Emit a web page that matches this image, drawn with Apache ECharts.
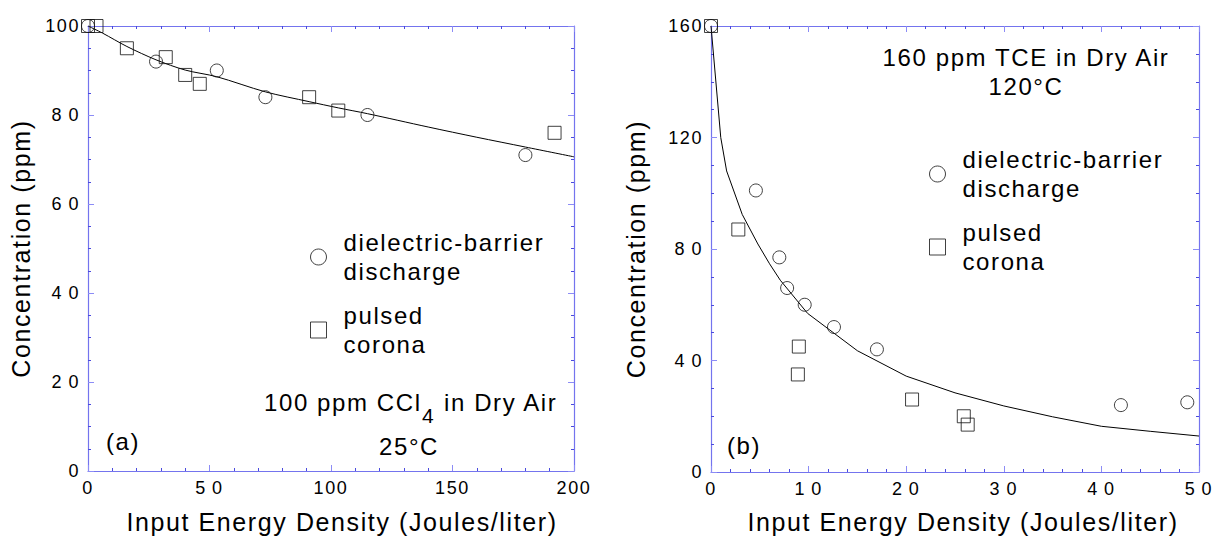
<!DOCTYPE html>
<html>
<head>
<meta charset="utf-8">
<title>Concentration vs input energy density</title>
<script src="https://cdn.jsdelivr.net/npm/echarts@6/dist/echarts.min.js"></script>
<style>
    html, body { margin: 0; padding: 0; background: #fff; }
    #main { width: 1217px; height: 539px; }
    /* the original plot sets its letters a little wider than normal */
    #main svg text { letter-spacing: 1.6px; }
</style>
</head>
<body>
<div id="main"></div>
<script>
// (a) 100 ppm CCl4 in dry air, 25 C
var ccl4DbdX = [0, 28, 53, 73, 115, 180];
var ccl4DbdY = [100, 92, 90, 84, 80, 71];
var ccl4PcX = [0, 3.5, 16, 32, 40, 46, 91, 103, 192];
var ccl4PcY = [100, 100, 95, 93, 89, 87, 84, 81, 76];
var ccl4FitX = [0, 6, 16, 28, 40, 53, 73, 91, 103, 115, 140, 160, 180, 200];
var ccl4FitY = [100, 98.4, 95.4, 92.4, 90.1, 88.6, 85.2, 83.0, 81.6, 80.3, 77.3, 75.0, 72.8, 70.6];

// (b) 160 ppm TCE in dry air, 120 C
var tceDbdX = [0, 4.6, 7.0, 7.8, 9.6, 12.6, 17, 42, 48.8];
var tceDbdY = [160, 101, 77, 66, 60, 52, 44, 24, 25];
var tcePcX = [0, 2.8, 9.0, 8.9, 20.6, 25.9, 26.3];
var tcePcY = [160, 87, 45, 35, 26, 20, 17];
var tceFitX = [0, 1, 1.6, 3.2, 4.8, 6, 7.1, 9.9, 15, 20, 25, 30, 35, 40, 45, 50];
var tceFitY = [160, 120, 108, 92.4, 81.8, 74.7, 68.8, 56.9, 43.5, 34.4, 28.4, 23.7, 19.8, 16.4, 14.6, 12.9];

// axis ranges [min, max, major step, minor divisions]
var ccl4XTicks = [0, 200, 50, 5];
var ccl4YTicks = [0, 100, 20, 4];
var tceXTicks = [0, 50, 10, 5];
var tceYTicks = [0, 160, 40, 4];

var dbdName = 'dielectric-barrier\ndischarge';
var pcName = 'pulsed\ncorona';
var xName = 'Input Energy Density (Joules/liter)';
var yName = 'Concentration (ppm)';

var fontName = "'Liberation Sans', Arial, sans-serif";
var axisBlue = '#7474ee';
var hollow = {color: 'rgba(0,0,0,0)', borderColor: '#111', borderWidth: 1};

function pairs(xs, ys) {
    var out = [];
    for (var i = 0; i < xs.length; i++) {
        out.push([xs[i], ys[i]]);
    }
    return out;
}

function tickText(v) {
    var s = String(v);
    if (s.length == 2) { // two digit labels are spaced out in the original
        return s.charAt(0) + '\u2009' + s.charAt(1);
    }
    return s;
}

function makeAxis(grid, pos, ticks, showLabel) {
    return {
        type: 'value',
        gridIndex: grid,
        position: pos,
        min: ticks[0],
        max: ticks[1],
        interval: ticks[2],
        axisLine: {show: true, onZero: false, lineStyle: {color: axisBlue, width: 1.2}},
        axisTick: {show: true, inside: true, length: 6, lineStyle: {color: '#8c8cf6', width: 1}},
        minorTick: {show: true, splitNumber: ticks[3], length: 3, lineStyle: {color: '#4a4ade', width: 1}},
        splitLine: {show: false},
        axisLabel: {
            show: showLabel, margin: 8, color: '#000', fontSize: 18, fontFamily: fontName,
            showMinLabel: true, showMaxLabel: true, formatter: tickText
        }
    };
}

function nameIt(axis, name, gap, pad) {
    axis.name = name;
    axis.nameLocation = 'middle';
    axis.nameGap = gap;
    axis.nameTextStyle = {color: '#000', fontSize: 25, fontFamily: fontName, padding: pad};
    return axis;
}

var xAxes = [
    nameIt(makeAxis(0, 'bottom', ccl4XTicks, true), xName, 38, [0, 0, 0, 22]),
    makeAxis(0, 'top', ccl4XTicks, false),
    nameIt(makeAxis(1, 'bottom', tceXTicks, true), xName, 37, [0, 0, 0, 16]),
    makeAxis(1, 'top', tceXTicks, false)
];
var yAxes = [
    nameIt(makeAxis(0, 'left', ccl4YTicks, true), yName, 55, 0),
    makeAxis(0, 'right', ccl4YTicks, false),
    nameIt(makeAxis(1, 'left', tceYTicks, true), yName, 63, 0),
    makeAxis(1, 'right', tceYTicks, false)
];

function dots(name, symbol, xi, xs, ys) {
    return {
        name: name, type: 'scatter', xAxisIndex: xi, yAxisIndex: xi,
        data: pairs(xs, ys), symbol: symbol, symbolSize: 13,
        itemStyle: hollow, clip: false, silent: true, z: 3
    };
}

function fit(xi, xs, ys, smooth) {
    return {
        name: 'fit', type: 'line', xAxisIndex: xi, yAxisIndex: xi,
        data: pairs(xs, ys), showSymbol: false, smooth: smooth,
        lineStyle: {color: '#000', width: 1}, silent: true, z: 2
    };
}

function legendAt(left, top) {
    return {
        orient: 'vertical', left: left, top: top, padding: 0,
        itemWidth: 16, itemHeight: 16, itemGap: 15, selectedMode: false,
        data: [{name: dbdName, icon: 'circle'}, {name: pcName, icon: 'rect'}],
        itemStyle: hollow,
        textStyle: {color: '#000', fontSize: 24, lineHeight: 29, fontFamily: fontName, padding: [0, 0, 0, 12]}
    };
}

function label(x, y, text, align) {
    return {
        type: 'text', x: x, y: y, silent: true,
        style: {text: text, fill: '#000', font: '24px ' + fontName, align: align, verticalAlign: 'middle'}
    };
}

var chart = echarts.init(document.getElementById('main'), null, {renderer: 'svg'});
chart.setOption({
    animation: false,
    backgroundColor: '#fff',
    grid: [
        {left: 88, top: 26, width: 486, height: 448},
        {left: 711, top: 26, width: 488, height: 451}
    ],
    xAxis: xAxes,
    yAxis: yAxes,
    legend: [legendAt(310, 228), legendAt(929, 145)],
    series: [
        fit(0, ccl4FitX, ccl4FitY, 0.3),
        dots(dbdName, 'circle', 0, ccl4DbdX, ccl4DbdY),
        dots(pcName, 'rect', 0, ccl4PcX, ccl4PcY),
        fit(2, tceFitX, tceFitY, false),
        dots(dbdName, 'circle', 2, tceDbdX, tceDbdY),
        dots(pcName, 'rect', 2, tcePcX, tcePcY)
    ],
    graphic: [
        {
            // subscript 4: top padding pushes it below the line, left padding makes room for the letter spacing
            type: 'text', x: 264, y: 390, silent: true,
            style: {
                text: '{m|100 ppm CCl}{s|4}{m| in Dry Air}',
                fill: '#000',
                rich: {
                    m: {fontSize: 24, lineHeight: 24, verticalAlign: 'top', fontFamily: fontName},
                    s: {fontSize: 21, verticalAlign: 'top', fontFamily: fontName, padding: [15, 2, 0, 18]}
                }
            }
        },
        label(409, 446, '25°C', 'center'),
        label(106, 441, '(a)', 'left'),
        label(1026, 57, '160 ppm TCE in Dry Air', 'center'),
        label(1026, 86, '120°C', 'center'),
        label(727, 445, '(b)', 'left')
    ]
});
</script>
</body>
</html>
